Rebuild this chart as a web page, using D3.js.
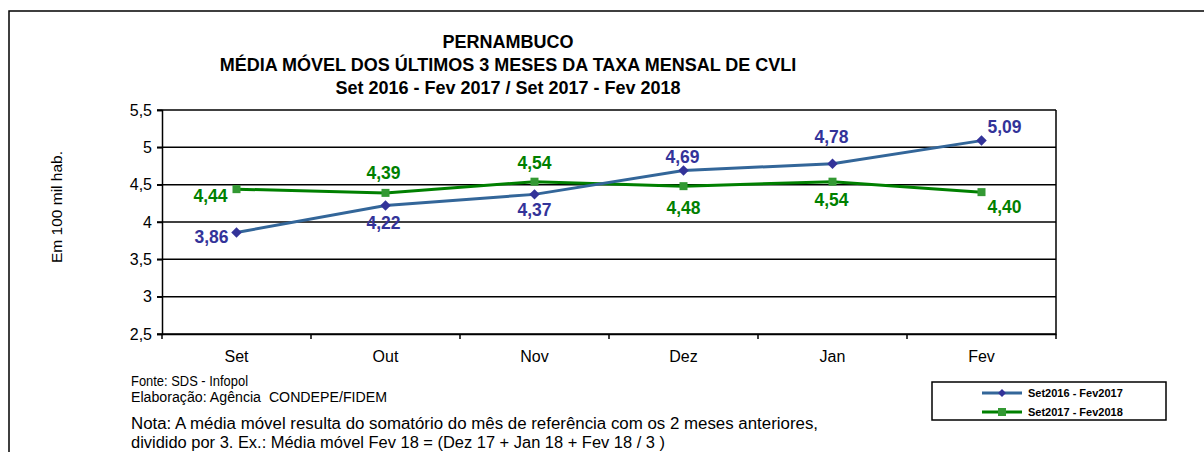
<!DOCTYPE html>
<html>
<head>
<meta charset="utf-8">
<script src="https://cdn.jsdelivr.net/npm/d3@7"></script>
<style>
  body { margin: 0; background: #fff; }
  svg { display: block; font-family: Arial, "Liberation Sans", sans-serif; }
</style>
</head>
<body>
<svg id="chart"></svg>
<script>
// data
const months = ["Set", "Out", "Nov", "Dez", "Jan", "Fev"];
const serie2016 = [3.86, 4.22, 4.37, 4.69, 4.78, 5.09];
const serie2017 = [4.44, 4.39, 4.54, 4.48, 4.54, 4.40];
const seriesNames = ["Set2016 - Fev2017", "Set2017 - Fev2018"];
const yTicks = [2.5, 3, 3.5, 4, 4.5, 5, 5.5];
const titleLines = [
  "PERNAMBUCO",
  "MÉDIA MÓVEL DOS ÚLTIMOS 3 MESES DA TAXA MENSAL DE CVLI",
  "Set 2016 - Fev 2017 / Set 2017 - Fev 2018"
];

const W = 1204, H = 452;
const svg = d3.select("#chart").attr("width", W).attr("height", H);

// outer frame (runs off the right and bottom)
svg.append("rect")
  .attr("x", 9).attr("y", 11)
  .attr("width", 1300).attr("height", 600)
  .attr("fill", "none").attr("stroke", "#000").attr("stroke-width", 1.5);

const plot = { left: 162, right: 1056, top: 110, bottom: 334 };

const x = d3.scaleBand().domain(months).range([plot.left, plot.right]);
const y = d3.scaleLinear().domain([2.5, 5.5]).range([plot.bottom, plot.top]);
const fmt = v => d3.format(".2f")(v).replace(".", ",");
const fmtTick = v => String(v).replace(".", ",");

// title
svg.append("g").selectAll("text")
  .data(titleLines)
  .join("text")
  .attr("x", 508)
  .attr("y", (d, i) => 48 + i * 23)
  .attr("text-anchor", "middle")
  .attr("font-weight", "bold")
  .attr("font-size", 18)
  .text(d => d);

// gridlines
svg.append("g").selectAll("line")
  .data(yTicks)
  .join("line")
  .attr("x1", plot.left - 5).attr("x2", plot.right)
  .attr("y1", d => y(d)).attr("y2", d => y(d))
  .attr("stroke", "#000").attr("stroke-width", 1.5);

// right border of plot
svg.append("line")
  .attr("x1", plot.right).attr("x2", plot.right)
  .attr("y1", plot.top).attr("y2", plot.bottom)
  .attr("stroke", "#000").attr("stroke-width", 1.5);

// y axis
const yAxis = svg.append("g")
  .attr("transform", `translate(${plot.left},0)`)
  .call(d3.axisLeft(y).tickValues(yTicks).tickFormat(fmtTick).tickSize(5).tickPadding(5));
yAxis.attr("font-size", 16).attr("font-family", "Arial, 'Liberation Sans', sans-serif");
yAxis.select(".domain").attr("stroke-width", 1.5);
yAxis.selectAll(".tick line").attr("stroke-width", 1.5);
yAxis.selectAll("text").attr("fill", "#000");

// x axis
const xAxis = svg.append("g")
  .attr("transform", `translate(0,${plot.bottom})`)
  .call(d3.axisBottom(x).tickSize(0).tickPadding(17));
xAxis.attr("font-size", 16).attr("font-family", "Arial, 'Liberation Sans', sans-serif");
xAxis.select(".domain").attr("stroke-width", 1.5);
xAxis.selectAll("text").attr("fill", "#000");
// category separators
svg.append("g").selectAll("line")
  .data(months.concat(["_end"]))
  .join("line")
  .attr("x1", (d, i) => plot.left + i * x.bandwidth())
  .attr("x2", (d, i) => plot.left + i * x.bandwidth())
  .attr("y1", plot.bottom).attr("y2", plot.bottom + 5)
  .attr("stroke", "#000").attr("stroke-width", 1.5);

// y axis title
svg.append("text")
  .attr("transform", `translate(62,${(plot.top + plot.bottom) / 2 - 15}) rotate(-90)`)
  .attr("text-anchor", "middle")
  .attr("font-size", 15.5)
  .text("Em 100 mil hab.");

const cx = m => x(m) + x.bandwidth() / 2;
const line = d3.line().x((d, i) => cx(months[i])).y(d => y(d));

// green series
svg.append("path").datum(serie2017)
  .attr("d", line).attr("fill", "none")
  .attr("stroke", "#008000").attr("stroke-width", 3);
svg.append("g").selectAll("rect")
  .data(serie2017)
  .join("rect")
  .attr("x", (d, i) => cx(months[i]) - 4).attr("y", d => y(d) - 4)
  .attr("width", 8).attr("height", 8)
  .attr("fill", "#339933");

// blue series
svg.append("path").datum(serie2016)
  .attr("d", line).attr("fill", "none")
  .attr("stroke", "#336699").attr("stroke-width", 3);
svg.append("g").selectAll("path")
  .data(serie2016)
  .join("path")
  .attr("d", d3.symbol(d3.symbolDiamond2, 70))
  .attr("transform", (d, i) => `translate(${cx(months[i])},${y(d)})`)
  .attr("fill", "#333399");

// data labels: offsets relative to point [dx, dy, anchor]
const blueOff = [[-8, 11, "end"], [-2, 23, "middle"], [0, 22, "middle"], [-1, -7, "middle"], [-1, -21, "middle"], [6, -8, "start"]];
const greenOff = [[-9, 13, "end"], [-2, -14, "middle"], [0, -13, "middle"], [0, 28, "middle"], [-1, 24, "middle"], [6, 21, "start"]];

svg.append("g").selectAll("text")
  .data(serie2016)
  .join("text")
  .attr("x", (d, i) => cx(months[i]) + blueOff[i][0])
  .attr("y", (d, i) => y(d) + blueOff[i][1])
  .attr("text-anchor", (d, i) => blueOff[i][2])
  .attr("font-size", 17.5).attr("font-weight", "bold")
  .attr("fill", "#333399")
  .text(fmt);

svg.append("g").selectAll("text")
  .data(serie2017)
  .join("text")
  .attr("x", (d, i) => cx(months[i]) + greenOff[i][0])
  .attr("y", (d, i) => y(d) + greenOff[i][1])
  .attr("text-anchor", (d, i) => greenOff[i][2])
  .attr("font-size", 17.5).attr("font-weight", "bold")
  .attr("fill", "#008000")
  .text(fmt);

// legend
const lg = svg.append("g").attr("transform", "translate(932,382)");
lg.append("rect").attr("width", 234).attr("height", 38)
  .attr("fill", "#fff").attr("stroke", "#000").attr("stroke-width", 1.5);
const legendItems = [
  { name: seriesNames[0], color: "#336699", mark: "#333399", shape: "diamond", y: 11 },
  { name: seriesNames[1], color: "#008000", mark: "#339933", shape: "square", y: 30 }
];
legendItems.forEach(it => {
  lg.append("line").attr("x1", 50).attr("x2", 90).attr("y1", it.y).attr("y2", it.y)
    .attr("stroke", it.color).attr("stroke-width", 3);
  if (it.shape === "diamond") {
    lg.append("path").attr("d", d3.symbol(d3.symbolDiamond2, 40))
      .attr("transform", `translate(70,${it.y})`).attr("fill", it.mark);
  } else {
    lg.append("rect").attr("x", 66).attr("y", it.y - 4).attr("width", 8).attr("height", 8)
      .attr("fill", it.mark);
  }
  lg.append("text").attr("x", 96).attr("y", it.y + 4)
    .attr("font-size", 11).attr("font-weight", "bold").text(it.name);
});

// footer notes
svg.append("text").attr("x", 131).attr("y", 386).attr("font-size", 14)
  .attr("textLength", 117).attr("lengthAdjust", "spacingAndGlyphs")
  .text("Fonte: SDS - Infopol");
svg.append("text").attr("x", 131).attr("y", 402).attr("font-size", 14)
  .style("white-space", "pre")
  .attr("textLength", 256).attr("lengthAdjust", "spacingAndGlyphs")
  .text("Elaboração: Agência  CONDEPE/FIDEM");
svg.append("text").attr("x", 131).attr("y", 429).attr("font-size", 16)
  .attr("textLength", 687).attr("lengthAdjust", "spacingAndGlyphs")
  .text("Nota: A média móvel resulta do somatório do mês de referência com os 2 meses anteriores,");
svg.append("text").attr("x", 131).attr("y", 448).attr("font-size", 16)
  .attr("textLength", 534).attr("lengthAdjust", "spacingAndGlyphs")
  .text("dividido por 3. Ex.: Média móvel Fev 18 = (Dez 17 + Jan 18 + Fev 18 / 3 )");
</script>
</body>
</html>
